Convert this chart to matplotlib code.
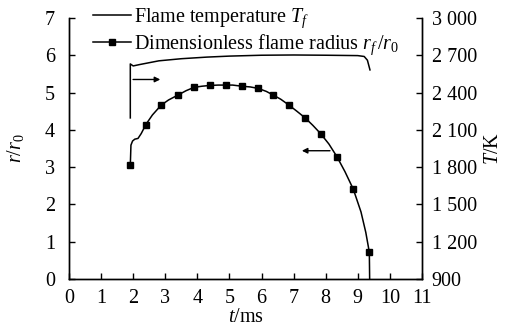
import matplotlib
matplotlib.use("Agg")
import matplotlib.pyplot as plt
from matplotlib.ticker import FuncFormatter

plt.rcParams['font.family'] = 'Liberation Serif'
plt.rcParams['mathtext.fontset'] = 'custom'
plt.rcParams['mathtext.rm'] = 'Liberation Serif'
plt.rcParams['mathtext.it'] = 'Liberation Serif:italic'
plt.rcParams['font.size'] = 14.5

# flame radius curve (t in ms, r/r0)
t_r = [1.91, 1.93, 1.98, 2.05, 2.15, 2.25, 2.40, 2.60, 2.87, 3.10, 3.39, 3.65, 3.90, 4.15,
       4.39, 4.65, 4.88, 5.10, 5.38, 5.65, 5.90, 6.15, 6.37, 6.60, 6.86, 7.10, 7.36, 7.60,
       7.84, 8.10, 8.35, 8.60, 8.86, 9.10, 9.25, 9.36, 9.37]
r_r = [3.05, 3.59, 3.70, 3.75, 3.77, 3.90, 4.15, 4.40, 4.66, 4.80, 4.93, 5.05, 5.14, 5.17,
       5.19, 5.20, 5.20, 5.20, 5.17, 5.15, 5.11, 5.03, 4.93, 4.82, 4.66, 4.50, 4.32, 4.12,
       3.90, 3.62, 3.28, 2.88, 2.41, 1.80, 1.25, 0.72, 0.0]

# marker points
t_mk = [1.91, 2.40, 2.87, 3.39, 3.90, 4.39, 4.88, 5.38, 5.90, 6.37, 6.86, 7.36, 7.84, 8.35, 8.86, 9.36]
r_mk = [3.05, 4.14, 4.66, 4.93, 5.14, 5.19, 5.19, 5.17, 5.11, 4.93, 4.66, 4.32, 3.90, 3.28, 2.41, 0.72]

# flame temperature (K)
t_T = [1.91, 1.91, 2.0, 2.2, 2.8, 3.5, 4.3, 5.0, 6.0, 7.0, 8.0, 9.0, 9.2, 9.3, 9.38]
T_T = [2196, 2630, 2614, 2625, 2655, 2672, 2685, 2693, 2700, 2702, 2700, 2697, 2690, 2660, 2582]

fig = plt.figure(figsize=(5.19, 3.26), dpi=100)
ax = fig.add_axes([0.133, 0.144, 0.68, 0.801])
ax2 = ax.twinx()

ax.plot(t_r, r_r, color='black', lw=1.1)
ax.plot(t_mk, r_mk, 's', color='black', ms=4.2)
lT, = ax2.plot(t_T, T_T, color='black', lw=1.1)
lr, = ax.plot([], [], color='black', lw=1.1, marker='s', ms=3.8)

ax.set_xlim(0, 11)
ax.set_ylim(0, 7)
ax2.set_ylim(900, 3000)
ax.set_xticks(range(0, 12))
ax.set_yticks(range(0, 8))
ax2.set_yticks(range(900, 3001, 300))
ax2.yaxis.set_major_formatter(FuncFormatter(lambda v, p: f"{int(v):,}".replace(',', ' ')))

for a in (ax, ax2):
    a.spines['top'].set_visible(False)
    a.tick_params(direction='in', length=4, width=1, pad=7)
    for s in a.spines.values():
        s.set_linewidth(1)
ax.tick_params(axis='y', pad=10)

ax.set_xlabel(r'$t$/ms', labelpad=0)
ax.set_ylabel(r'$r$/$r_{\rm 0}$', labelpad=14)
ax2.set_ylabel(r'$T$/K', labelpad=5)

ax.annotate('', xy=(2.93, 5.35), xytext=(1.91, 5.35),
            arrowprops=dict(arrowstyle='-|>', color='black', lw=1, mutation_scale=8))
ax.annotate('', xy=(7.17, 3.44), xytext=(8.22, 3.44),
            arrowprops=dict(arrowstyle='-|>', color='black', lw=1, mutation_scale=8))

ax.legend([lT, lr], [r'Flame temperature $T_f$', r'Dimensionless flame radius $r_f\,/r_{\rm 0}$'],
          loc='upper left', bbox_to_anchor=(0.068, 1.045), frameon=False,
          borderaxespad=0, borderpad=0, handlelength=1.9, handletextpad=0.15,
          labelspacing=0.12, fontsize=14.5)

fig.savefig('out.png', dpi=100)
